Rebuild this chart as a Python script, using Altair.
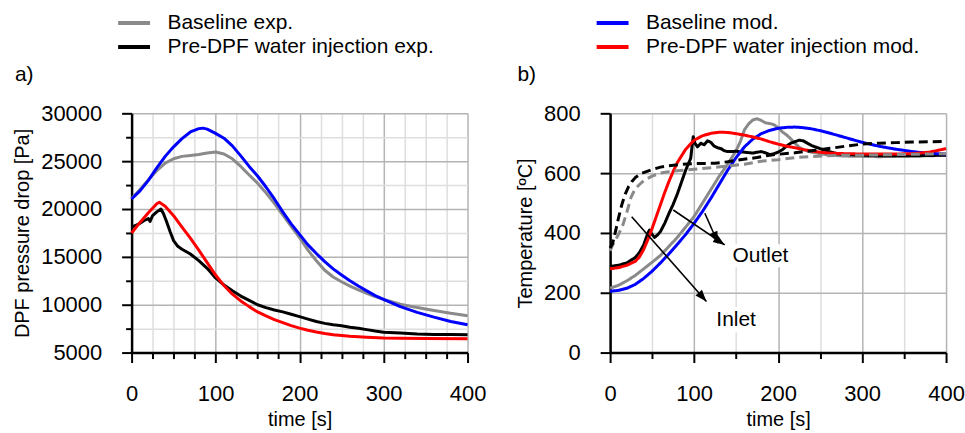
import math
import altair as alt
import pandas as pd

FONT = "Liberation Sans"

# ---------------- series names / colours ----------------
SERIES = ["Baseline exp.", "Pre-DPF water injection exp.",
          "Baseline mod.", "Pre-DPF water injection mod."]
COLORS = ["#8a8a8a", "#000000", "#0000ff", "#ff0000"]

# ---------------- panel a) DPF pressure drop [Pa] ----------------
a_base_exp_t = [0, 10, 20, 30, 40, 50, 60, 70, 80, 90, 100, 110, 120, 130, 140, 150, 160, 170, 180,
                190, 200, 210, 220, 230, 240, 250, 260, 270, 280, 290, 300, 320, 340, 360, 380, 400]
a_base_exp_p = [21100, 22050, 23050, 24000, 24800, 25250, 25500, 25600, 25700, 25850, 25950, 25750,
                25250, 24450, 23550, 22700, 21700, 20600, 19400, 18200, 17000, 15700, 14600, 13600,
                12900, 12400, 11950, 11550, 11200, 10850, 10550, 10050, 9700, 9400, 9100, 8850]

a_wi_exp_t = [0, 5, 10, 15, 20, 22, 25, 30, 35, 38, 42, 46, 50, 55, 60, 70, 80, 90, 100, 110, 120,
              130, 140, 150, 160, 170, 180, 190, 200, 210, 220, 230, 240, 250, 260, 270, 280, 290,
              300, 320, 340, 360, 380, 400]
a_wi_exp_p = [18100, 18300, 18500, 18800, 19000, 18700, 19300, 19700, 20000, 19500, 18600, 17600,
              16700, 16100, 15800, 15300, 14600, 13800, 12800, 12050, 11450, 10900, 10450, 10000,
              9700, 9450, 9250, 9000, 8750, 8500, 8250, 8050, 7900, 7800, 7650, 7550, 7400, 7250,
              7120, 7050, 6950, 6900, 6880, 6850]

a_base_mod_t = [0, 10, 20, 30, 40, 50, 60, 70, 80, 85, 90, 100, 110, 120, 130, 140, 150, 160, 170,
                180, 190, 200, 210, 220, 230, 240, 250, 260, 270, 280, 290, 300, 320, 340, 360, 380, 400]
a_base_mod_p = [21050, 21900, 23000, 24300, 25500, 26500, 27350, 28050, 28400, 28450, 28350, 27900,
                27400, 26600, 25550, 24450, 23450, 22300, 21050, 19700, 18450, 17350, 16250, 15350,
                14500, 13750, 13100, 12500, 11950, 11450, 10950, 10550, 9800, 9200, 8700, 8250, 7900]

a_wi_mod_t = [0, 10, 20, 30, 33, 40, 50, 60, 70, 80, 90, 100, 110, 120, 130, 140, 150, 160, 170, 180,
              190, 200, 210, 220, 230, 240, 250, 260, 270, 280, 300, 320, 350, 400]
a_wi_mod_p = [17500, 18600, 19600, 20550, 20700, 20300, 19300, 18100, 16950, 15700, 14400, 13100,
              12000, 11100, 10400, 9800, 9250, 8830, 8450, 8130, 7820, 7560, 7330, 7150, 7000, 6870,
              6780, 6700, 6650, 6600, 6530, 6500, 6480, 6450]

# ---------------- panel b) Temperature [ºC] ----------------
b_base_exp_out_t = [0, 10, 20, 30, 40, 50, 60, 70, 80, 90, 100, 110, 120, 130, 140, 150, 155, 160, 165,
                    170, 175, 180, 185, 190, 195, 200, 205, 210, 215, 220, 225, 230, 240, 250, 260,
                    280, 300, 320, 340, 360, 380, 400]
b_base_exp_out_T = [215, 225, 240, 258, 280, 302, 325, 355, 385, 420, 455, 500, 545, 590, 630, 675,
                    705, 745, 765, 778, 782, 776, 768, 766, 762, 752, 738, 728, 715, 700, 687, 678,
                    670, 665, 660, 657, 656, 655, 656, 657, 658, 660]

b_wi_exp_out_t = [0, 10, 20, 30, 35, 40, 45, 47, 50, 53, 57, 60, 65, 70, 75, 80, 85, 90, 93, 96, 98,
                  99, 101, 104, 108, 112, 116, 120, 124, 128, 132, 136, 140, 150, 160, 170, 175, 180,
                  185, 190, 195, 200, 205, 210, 215, 220, 225, 230, 235, 240, 250, 260, 270, 280,
                  300, 320, 340, 360, 380, 400]
b_wi_exp_out_T = [288, 292, 300, 318, 335, 360, 400, 410, 395, 385, 395, 405, 432, 465, 495, 530, 570,
                  610, 630, 650, 700, 722, 700, 688, 700, 695, 708, 703, 690, 685, 682, 675, 672,
                  673, 670, 667, 670, 672, 668, 662, 665, 670, 678, 690, 700, 705, 710, 708, 700,
                  692, 682, 673, 665, 662, 660, 658, 658, 658, 659, 660]

b_base_mod_t = [0, 10, 20, 30, 40, 50, 60, 70, 80, 90, 100, 110, 120, 130, 140, 150, 160, 170, 180,
                190, 200, 210, 220, 230, 240, 250, 260, 270, 280, 290, 300, 320, 340, 360, 380, 400]
b_base_mod_T = [205, 208, 215, 228, 248, 272, 300, 330, 362, 395, 432, 472, 516, 563, 610, 652, 688,
                714, 732, 743, 750, 753, 754, 752, 748, 742, 735, 727, 719, 711, 703, 690, 680, 672,
                666, 664]

b_wi_mod_t = [0, 10, 20, 30, 35, 40, 45, 50, 55, 60, 65, 70, 75, 80, 90, 100, 110, 120, 130, 140,
              150, 160, 170, 180, 190, 200, 210, 220, 230, 240, 250, 260, 280, 300, 320, 340, 360,
              380, 400]
b_wi_mod_T = [280, 284, 292, 305, 320, 345, 378, 415, 455, 495, 535, 572, 605, 635, 680, 710, 725,
              733, 737, 736, 732, 727, 721, 714, 705, 697, 690, 685, 679, 674, 670, 667, 665, 664,
              664, 664, 665, 670, 682]

b_base_exp_in_t = [0, 3, 6, 10, 15, 20, 25, 30, 35, 40, 50, 60, 70, 80, 90, 100, 120, 140, 160, 180,
                   200, 220, 240, 260, 280, 300, 320, 340, 360, 380, 400]
b_base_exp_in_T = [340, 360, 375, 395, 425, 470, 520, 548, 562, 575, 590, 600, 605, 608, 610, 613,
                   618, 624, 630, 640, 645, 652, 655, 658, 660, 660, 661, 662, 663, 664, 665]

b_wi_exp_in_t = [0, 3, 6, 10, 14, 18, 22, 26, 30, 38, 50, 60, 70, 85, 100, 125, 140, 150, 175, 190,
                 200, 220, 240, 260, 280, 300, 320, 340, 360, 380, 400]
b_wi_exp_in_T = [350, 365, 400, 450, 495, 530, 555, 572, 585, 600, 612, 620, 625, 629, 632, 633, 638,
                 643, 652, 660, 663, 668, 675, 682, 690, 697, 700, 702, 704, 705, 706]

# annotations (panel b)
ann_text = ["Outlet", "Inlet"]
ann_t = [179, 150]
ann_T = [323, 110]
box_t0 = [143, 125]
box_t1 = [215, 175]
box_T0 = [285, 67]
box_T1 = [362, 153]

arrow_t0 = [75.2, 112.8, 25.7]
arrow_T0 = [476.7, 465.7, 454.4]
arrow_t1 = [136.5, 128.6, 114.7]
arrow_T1 = [360.0, 365.5, 171.0]

panel_labels = ["a)", "b)"]

# ---------------- layout constants ----------------
W, H = 337, 240
MAJOR = "#b4b4b4"
MINOR = "#dedede"


def frame(t, v, series, loc="Outlet"):
    return pd.DataFrame({"t": t, "v": v, "series": series, "loc": loc})


dfa = pd.concat([
    frame(a_base_exp_t, a_base_exp_p, SERIES[0]),
    frame(a_wi_exp_t, a_wi_exp_p, SERIES[1]),
    frame(a_base_mod_t, a_base_mod_p, SERIES[2]),
    frame(a_wi_mod_t, a_wi_mod_p, SERIES[3]),
], ignore_index=True)

dfb = pd.concat([
    frame(b_base_exp_out_t, b_base_exp_out_T, SERIES[0]),
    frame(b_wi_exp_out_t, b_wi_exp_out_T, SERIES[1]),
    frame(b_base_mod_t, b_base_mod_T, SERIES[2]),
    frame(b_wi_mod_t, b_wi_mod_T, SERIES[3]),
    frame(b_base_exp_in_t, b_base_exp_in_T, SERIES[0], "Inlet"),
    frame(b_wi_exp_in_t, b_wi_exp_in_T, SERIES[1], "Inlet"),
], ignore_index=True)

ann_df = pd.DataFrame({"txt": ann_text, "t": ann_t, "T": ann_T,
                       "t0": box_t0, "t1": box_t1, "T0": box_T0, "T1": box_T1})

px_t, px_T = W / 400.0, H / 800.0
arr_df = pd.DataFrame({"t0": arrow_t0, "T0": arrow_T0, "t1": arrow_t1, "T1": arrow_T1})
arr_df["ang"] = [
    (math.degrees(math.atan2((b - a) * px_t, (d - c) * px_T)) + 360) % 360
    for a, b, c, d in zip(arrow_t0, arrow_t1, arrow_T0, arrow_T1)
]


def cond(test, major, minor):
    return {"condition": {"test": test, "value": major}, "value": minor}


def x_axis():
    test = "datum.value % 100 == 0"
    return alt.Axis(values=list(range(0, 401, 25)), title="time [s]",
                    labelExpr=f"{test} ? datum.label : ''", format="d",
                    gridColor=cond(test, MAJOR, MINOR),
                    tickSize=cond(test, 10, 6),
                    labelPadding=21, titlePadding=5, labelFlush=False,
                    labelOverlap=False)


def y_axis(title, step_minor, step_major, lo, hi):
    test = f"datum.value % {step_major} == 0"
    return alt.Axis(values=list(range(lo, hi + 1, step_minor)), title=title,
                    labelExpr=f"{test} ? datum.label : ''", format="d",
                    gridColor=cond(test, MAJOR, MINOR),
                    tickSize=cond(test, 10, 6),
                    labelPadding=20, titlePadding=8, labelOverlap=False)


def legend(values):
    # line symbol drawn as a custom horizontal path: 32 px long, 16 px layout box
    return alt.Legend(values=values, orient="none", legendX=-8, legendY=-101, title=None,
                      symbolType="M-2,0H2", symbolSize=256, symbolStrokeWidth=4,
                      labelFontSize=21, labelFont=FONT, labelOffset=23, rowPadding=2,
                      padding=0, labelLimit=500, labelColor="black")


color_scale = alt.Scale(domain=SERIES, range=COLORS)
x_scale = alt.Scale(domain=[0, 400], nice=False)

# ---------- panel a ----------
lines_a = alt.Chart(dfa).mark_line(strokeWidth=3, strokeJoin="round").encode(
    x=alt.X("t:Q", scale=x_scale, axis=x_axis()),
    y=alt.Y("v:Q", scale=alt.Scale(domain=[5000, 30000], nice=False),
            axis=y_axis("DPF pressure drop [Pa]", 2500, 5000, 5000, 30000)),
    color=alt.Color("series:N", scale=color_scale, legend=legend(SERIES[:2])),
    detail="series:N",
)
label_a = alt.Chart(pd.DataFrame({"lab": [panel_labels[0]]})).mark_text(
    align="left", baseline="middle", fontSize=21, font=FONT, color="black"
).encode(text="lab:N", x=alt.value(-117), y=alt.value(-38))

panel_a = alt.layer(lines_a, label_a).properties(width=W, height=H)

# ---------- panel b ----------
lines_b = alt.Chart(dfb).mark_line(strokeWidth=3, strokeJoin="round").encode(
    x=alt.X("t:Q", scale=x_scale, axis=x_axis()),
    y=alt.Y("v:Q", scale=alt.Scale(domain=[0, 800], nice=False),
            axis=y_axis("Temperature [ºC]", 100, 200, 0, 800)),
    color=alt.Color("series:N", scale=color_scale, legend=legend(SERIES[2:])),
    strokeDash=alt.StrokeDash("loc:N", scale=alt.Scale(domain=["Outlet", "Inlet"],
                                                       range=[[1, 0], [9, 5]]), legend=None),
    detail="series:N",
)
boxes = alt.Chart(ann_df).mark_rect(color="white").encode(
    x="t0:Q", x2="t1:Q", y="T0:Q", y2="T1:Q")
texts = alt.Chart(ann_df).mark_text(fontSize=21, font=FONT, color="black",
                                    baseline="middle").encode(
    x="t:Q", y="T:Q", text="txt:N")
rules = alt.Chart(arr_df).mark_rule(color="black", strokeWidth=1.6).encode(
    x="t0:Q", x2="t1:Q", y="T0:Q", y2="T1:Q")
heads = alt.Chart(arr_df).mark_point(
    shape="M0,0L-0.5,1.35L0.5,1.35Z", filled=True, color="black", opacity=1, size=300
).encode(x="t1:Q", y="T1:Q", angle=alt.Angle("ang:Q", scale=None))
label_b = alt.Chart(pd.DataFrame({"lab": [panel_labels[1]]})).mark_text(
    align="left", baseline="middle", fontSize=21, font=FONT, color="black"
).encode(text="lab:N", x=alt.value(-93), y=alt.value(-38))

panel_b = alt.layer(lines_b, boxes, texts, rules, heads, label_b).properties(width=W, height=H)

chart = alt.hconcat(panel_a, panel_b, spacing=143, bounds="flush").resolve_scale(
    color="independent"
).properties(
    padding={"left": 12, "top": 12, "right": 0, "bottom": 0}
).configure_view(stroke=None).configure_axis(
    labelFont=FONT, titleFont=FONT, labelFontSize=22, titleFontSize=20,
    titleFontWeight="normal", labelColor="black", titleColor="black",
    domainColor="black", domainWidth=2.5, tickColor="black", tickWidth=2,
    gridWidth=1.5, gridOpacity=1
)

chart.save("out.html", embed_options={"renderer": "svg", "actions": False})
